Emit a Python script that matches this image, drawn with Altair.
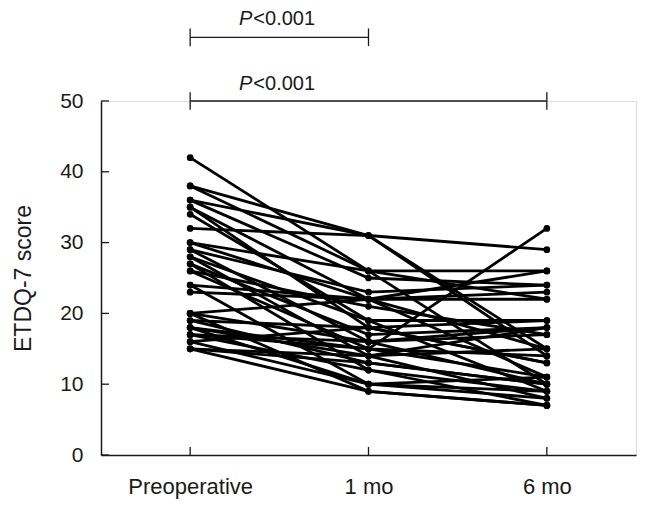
import altair as alt
import pandas as pd

# ---- data -------------------------------------------------------------
timepoints = ["Preoperative", "1 mo", "6 mo"]
preop = [42, 38, 38, 36, 36, 35, 35, 34, 32, 30, 30, 29, 29, 28, 28, 27, 27,
         26, 26, 24, 24, 23, 20, 20, 20, 19, 19, 18, 18, 18, 17, 17, 17, 16,
         16, 15, 15, 15]
mo1 = [26, 31, 26, 31, 25, 22, 18, 19, 31, 26, 22, 23, 16, 19, 14, 17, 12,
       21, 15, 22, 10, 22, 16, 9, 22, 18, 13, 15, 14, 10, 16, 15, 12, 18,
       10, 14, 9, 13]
mo6 = [10, 29, 22, 14, 24, 11, 13, 9, 15, 26, 23, 24, 10, 19, 8, 18, 7,
       17, 11, 22, 9, 15, 17, 7, 26, 13, 10, 32, 18, 8, 18, 14, 9, 19,
       11, 15, 7, 10]

y_ticks = [0, 10, 20, 30, 40, 50]
brackets = [{"x1": 0, "x2": 1, "y": 59.0, "ty": 60.7},
            {"x1": 0, "x2": 2, "y": 50.0, "ty": 51.5}]
p_text = ["P", "<0.001"]

rows = []
for i, (a, b, c) in enumerate(zip(preop, mo1, mo6)):
    for t, v in zip(range(3), (a, b, c)):
        rows.append({"subject": i, "t": t, "score": v})
df = pd.DataFrame(rows)

W, H = 535, 354
FONT = "Liberation Sans"
INK = "#1a1a1a"

xscale = alt.Scale(domain=[-0.5, 2.5], nice=False, zero=False)
yscale = alt.Scale(domain=[0, 50], nice=False)

x_axis = alt.Axis(values=[0, 1, 2], labelExpr="['Preoperative','1 mo','6 mo'][datum.value]",
                  ticks=False, grid=False, title=None, labelFontSize=22,
                  labelPadding=21, labelColor=INK, domainColor=INK,
                  domainWidth=1.5, labelFont=FONT)
y_axis = alt.Axis(values=y_ticks, ticks=False, grid=False, title="ETDQ-7 score",
                  labelFontSize=21, labelPadding=18, labelColor=INK,
                  domainColor=INK, domainWidth=1.5, titleFontSize=23,
                  titleFontWeight="normal", titleColor=INK, titlePadding=24,
                  labelFont=FONT, titleFont=FONT)

lines = alt.Chart(df).mark_line(color="black", strokeWidth=2.8).encode(
    x=alt.X("t:Q", scale=xscale, axis=x_axis),
    y=alt.Y("score:Q", scale=yscale, axis=y_axis),
    detail="subject:N",
)
points = alt.Chart(df).mark_circle(color="black", size=45, opacity=1).encode(
    x=alt.X("t:Q", scale=xscale),
    y=alt.Y("score:Q", scale=yscale),
)

# inward ticks
ytick_df = pd.DataFrame({"v": y_ticks})
yticks = alt.Chart(ytick_df).mark_rule(color=INK, strokeWidth=1.3).encode(
    y=alt.Y("v:Q", scale=yscale), x=alt.value(0), x2=alt.value(8))
xtick_df = pd.DataFrame({"t": [0, 1, 2]})
xticks = alt.Chart(xtick_df).mark_rule(color=INK, strokeWidth=1.3).encode(
    x=alt.X("t:Q", scale=xscale), y=alt.value(H), y2=alt.value(H - 8))

# significance brackets
bdf = pd.DataFrame(brackets)
hbar = alt.Chart(bdf).mark_rule(color=INK, strokeWidth=1.3).encode(
    x=alt.X("x1:Q", scale=xscale), x2="x2:Q", y=alt.Y("y:Q", scale=yscale))
ends = pd.DataFrame(
    [{"x": b["x1"], "y": b["y"]} for b in brackets] + [{"x": b["x2"], "y": b["y"]} for b in brackets])
ends["lo"] = ends["y"] - 1.25
ends["hi"] = ends["y"] + 1.25
vbar = alt.Chart(ends).mark_rule(color=INK, strokeWidth=1.3).encode(
    x=alt.X("x:Q", scale=xscale), y=alt.Y("lo:Q", scale=yscale), y2="hi:Q")
tdf = pd.DataFrame({"x": [0.5, 0.5], "y": [b["ty"] for b in brackets]})
ptxt = alt.Chart(tdf).mark_text(text=p_text[0], fontStyle="italic", fontSize=20, font=FONT,
                                align="right", baseline="alphabetic", dx=-27,
                                color=INK).encode(
    x=alt.X("x:Q", scale=xscale), y=alt.Y("y:Q", scale=yscale))
rtxt = alt.Chart(tdf).mark_text(text=p_text[1], fontSize=20, font=FONT, align="left",
                                baseline="alphabetic", dx=-26, color=INK).encode(
    x=alt.X("x:Q", scale=xscale), y=alt.Y("y:Q", scale=yscale))

chart = alt.layer(lines, points, yticks, xticks, hbar, vbar, ptxt, rtxt).properties(
    width=W, height=H,
    autosize=alt.AutoSizeParams(type="none"),
    padding={"left": 93, "top": 93, "right": 1, "bottom": 45},
).configure_view(fill="#f7f7f7", strokeWidth=0).configure(background="white")

chart.save("out.html", embed_options={"renderer": "svg", "actions": False})
